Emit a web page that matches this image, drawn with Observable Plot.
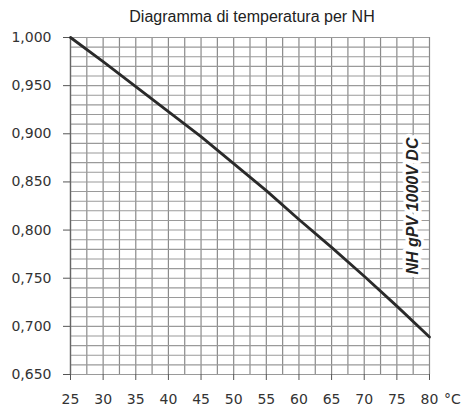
<!DOCTYPE html>
<html>
<head>
<meta charset="utf-8">
<script src="https://cdn.jsdelivr.net/npm/d3@7"></script>
<script src="https://cdn.jsdelivr.net/npm/@observablehq/plot@0.6"></script>
<style>
  html, body { margin: 0; padding: 0; background: #fff; }
  #title { height: 28px; line-height: 34px; text-align: center; font-family: "Liberation Sans", Arial, sans-serif; font-size: 16px; color: #222; padding-left: 41px; box-sizing: border-box; width: 463px; }
</style>
</head>
<body>
<div id="title">Diagramma di temperatura per NH</div>
<div id="chart"></div>
<script>
const temperatures = [25, 30, 35, 40, 45, 50, 55, 60, 65, 70, 75, 80];
const factors = [1.000, 0.975, 0.949, 0.923, 0.897, 0.869, 0.841, 0.811, 0.782, 0.752, 0.721, 0.689];
const xTicks = [25, 30, 35, 40, 45, 50, 55, 60, 65, 70, 75, 80];
const yTicks = [0.650, 0.700, 0.750, 0.800, 0.850, 0.900, 0.950, 1.000];
const unitLabel = "°C";
const seriesLabel = "NH gPV 1000V DC";

const data = temperatures.map((t, i) => ({t, f: factors[i]}));
const gridX = d3.range(25, 80.001, 2.5);
const gridY = d3.range(65, 100.001, 1).map(v => v / 100);

const chart = Plot.plot({
  width: 463,
  height: 384,
  marginLeft: 70,
  marginRight: 34,
  marginTop: 9,
  marginBottom: 38,
  style: {fontFamily: "DejaVu Sans, sans-serif", fontSize: "14px", color: "#333", background: "#fff"},
  x: {domain: [25, 80]},
  y: {domain: [0.65, 1.0]},
  marks: [
    Plot.ruleX(gridX, {stroke: "#8a8a8a", strokeWidth: 1.2}),
    Plot.ruleY(gridY, {stroke: "#9a9a9a", strokeWidth: 1.1}),
    Plot.axisY({ticks: yTicks, tickFormat: d => d.toFixed(3).replace(".", ","), tickSize: 7, tickPadding: 12, label: null, stroke: "#555"}),
    Plot.axisX({ticks: xTicks, tickSize: 6, tickPadding: 14, label: null, stroke: "#555"}),
    Plot.ruleX([25], {stroke: "#666", strokeWidth: 1.3}),
    Plot.text([seriesLabel], {frameAnchor: "right", dx: -17, dy: 0, rotate: -90, textAnchor: "middle", text: d => d, fontWeight: "bold", fontStyle: "italic", fontFamily: "Liberation Sans, Arial, sans-serif", fontSize: 16, fill: "#222", stroke: "white", strokeWidth: 7}),
    Plot.line(data, {x: "t", y: "f", stroke: "#2a2a2a", strokeWidth: 2.8}),
    Plot.text([unitLabel], {frameAnchor: "bottom-right", dx: 23, dy: 29, text: d => d, textAnchor: "middle", fontFamily: "DejaVu Sans, sans-serif", fontSize: 14, fill: "#333"})
  ]
});
document.getElementById("chart").appendChild(chart);
</script>
</body>
</html>
